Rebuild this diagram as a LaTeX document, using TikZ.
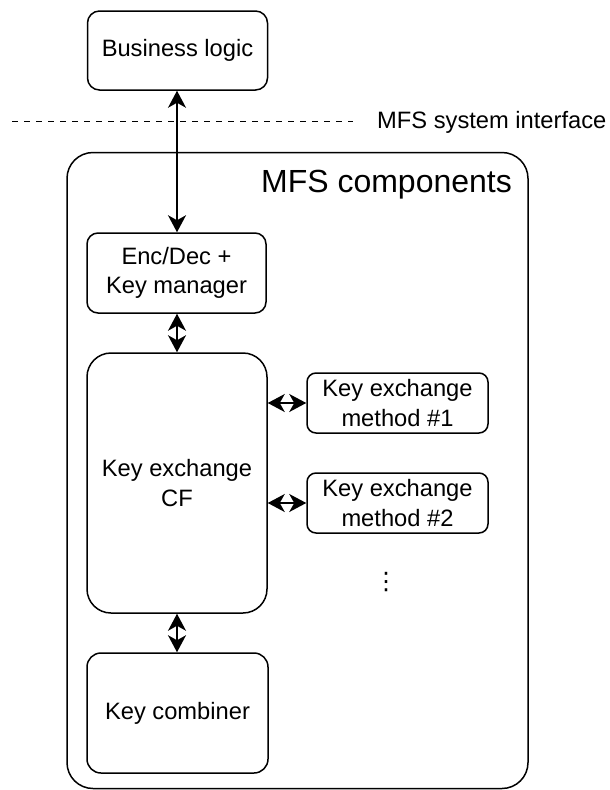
\documentclass[tikz,border=0pt]{standalone}
\usepackage{fontspec}
\setmainfont{Liberation Sans}
\newfontfamily\djvfont{DejaVu Sans}
\usetikzlibrary{arrows.meta}
\begin{document}
\begin{tikzpicture}[x=1pt,y=-1pt,
  every node/.style={font=\fontsize{23.7}{29.5}\selectfont, align=center, inner sep=0pt},
  box/.style={draw, line width=1.5pt, rounded corners=11pt},
  conn/.style={line width=1.7pt, {Stealth[length=17pt,width=18pt,inset=5pt]}-{Stealth[length=17pt,width=18pt,inset=5pt]}}
]
\useasboundingbox (0,0) rectangle (610,790);
% container
\node[draw, line width=1.5pt, rounded corners=26pt, minimum width=461pt, minimum height=636pt] (cont) at (297.5,470.5) {};
\node[font=\fontsize{32}{38}\selectfont] (title) at (386.5,185) {MFS components};
% interface line
\coordinate (ifa) at (12,121);
\coordinate (ifb) at (353,121);
\draw[line width=1pt, dash pattern=on 6pt off 6pt] (ifa) -- (ifb);
\node[anchor=west] (iflabel) at (377,122) {MFS system interface};
% boxes
\node[box, rounded corners=12pt, minimum width=180pt, minimum height=79pt] (bl) at (177.5,50.5) {Business logic};
\node[box, minimum width=179pt, minimum height=80pt] (enc) at (176.5,273) {Enc/Dec +\\Key manager};
\node[box, rounded corners=24pt, minimum width=180pt, minimum height=260pt] (cf) at (177,483) {Key exchange\\CF};
\node[box, rounded corners=14pt, minimum width=181pt, minimum height=120pt] (kc) at (177.5,713) {Key combiner};
\node[box, rounded corners=9pt, minimum width=181pt, minimum height=60pt] (m1) at (397.5,403) {Key exchange\\method \#1};
\node[box, rounded corners=9pt, minimum width=181pt, minimum height=60pt] (m2) at (397.5,503) {Key exchange\\method \#2};
\node[font=\djvfont\fontsize{24}{24}\selectfont] (dots) at (386,582) {⋮};
% connectors
\draw[conn] (bl.south -| 177,0) -- (enc.north -| 177,0);
\draw[conn] (enc.south -| 177,0) -- (cf.north -| 177,0);
\draw[conn] (cf.south -| 177,0) -- (kc.north -| 177,0);
\draw[conn] (cf.east |- m1.west) -- (m1.west);
\draw[conn] (cf.east |- m2.west) -- (m2.west);
\end{tikzpicture}
\end{document}
